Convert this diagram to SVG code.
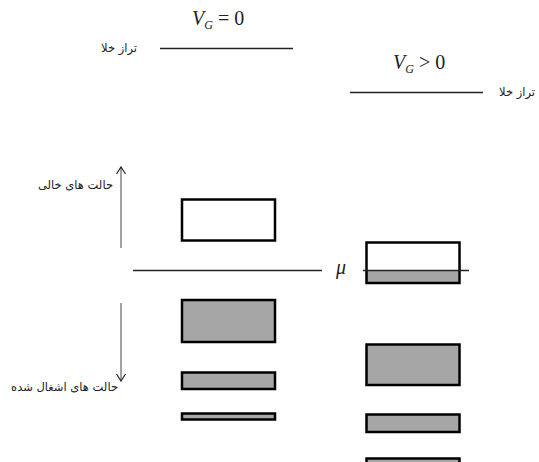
<svg xmlns="http://www.w3.org/2000/svg" width="539" height="462" viewBox="0 0 539 462">
<style>
.ln{stroke:#222;stroke-width:1.3;fill:none}
.box{stroke:#000;stroke-width:2.5}
.empty{fill:#fff}
.full{fill:#a6a6a6}
.fa{font-family:"DejaVu Sans","Noto Sans",sans-serif;font-size:11.5px;fill:#222}
.math{font-family:"Liberation Serif",serif;font-size:20px;fill:#222}
.ar{stroke:#444;stroke-width:1;fill:none}
</style>
<defs>
<marker id="ah" markerWidth="10" markerHeight="10" refX="9" refY="5" orient="auto" markerUnits="userSpaceOnUse" viewBox="0 0 10 10">
<path d="M2,0.5 L9,5 L2,9.5" stroke="#222" stroke-width="1.2" fill="none"/>
</marker>
</defs>
<g id="vacuum-left">
<line class="ln" x1="160" y1="48.5" x2="293" y2="48.5"/>
<text class="fa" x="137" y="52" text-anchor="end">تراز خلا</text>
<text class="math" x="192" y="25"><tspan font-style="italic">V</tspan><tspan font-style="italic" font-size="12" dy="4">G</tspan><tspan dy="-4"> = 0</tspan></text>
</g>
<g id="vacuum-right">
<line class="ln" x1="350" y1="92.5" x2="483" y2="92.5"/>
<text class="fa" x="535" y="96" text-anchor="end">تراز خلا</text>
<text class="math" x="393" y="69"><tspan font-style="italic">V</tspan><tspan font-style="italic" font-size="12" dy="4">G</tspan><tspan dy="-4"> &gt; 0</tspan></text>
</g>
<g id="connectors">
<line class="ar" x1="121" y1="248" x2="121" y2="167" marker-end="url(#ah)"/>
<line class="ar" x1="121" y1="303" x2="121" y2="381" marker-end="url(#ah)"/>
</g>
<g id="label-empty">
<text class="fa" x="113" y="189" text-anchor="end" font-size="12.5">حالت های خالی</text>
</g>
<g id="label-occupied">
<text class="fa" x="118" y="391" text-anchor="end" font-size="12">حالت های اشغال شده</text>
</g>
<g id="left-levels">
<rect id="L1" class="box empty" x="182" y="199.5" width="93" height="41"/>
<rect id="L2" class="box full" x="182" y="300" width="93" height="42"/>
<rect id="L3" class="box full" x="182" y="372.5" width="93" height="16.5"/>
<rect id="L4" class="box full" x="182" y="413.5" width="93" height="6"/>
</g>
<g id="right-levels">
<rect class="full" x="366.5" y="271" width="93" height="12"/>
<rect id="R1" class="box" fill="none" x="366.5" y="242.5" width="93" height="40.5"/>
<rect id="R2" class="box full" x="366.5" y="344.5" width="93" height="40.5"/>
<rect id="R3" class="box full" x="366.5" y="414.5" width="93" height="17.5"/>
<rect id="R4" class="box full" x="366.5" y="458.5" width="93" height="10"/>
</g>
<g id="mu">
<line class="ln" x1="133" y1="270.5" x2="322" y2="270.5" stroke-width="1.6"/>
<line class="ln" x1="363" y1="270.5" x2="469" y2="270.5" stroke-width="1.6"/>
<text class="math" x="336" y="274" font-style="italic">μ</text>
</g>
</svg>
